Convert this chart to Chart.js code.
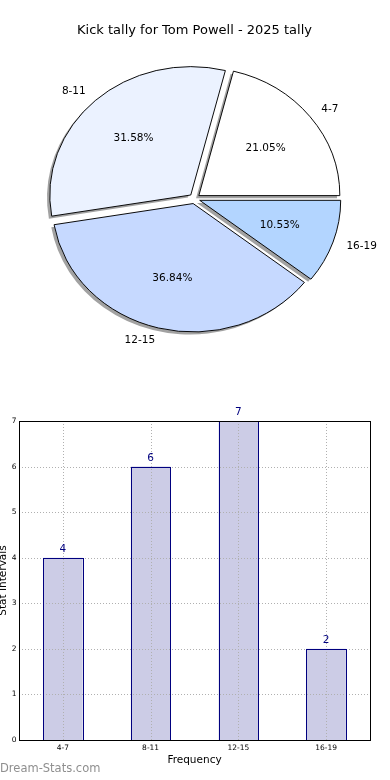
<!DOCTYPE html>
<html><head><meta charset="utf-8">
<script src="https://cdn.jsdelivr.net/npm/chart.js@4.4.0/dist/chart.umd.min.js"></script>
<style>
html,body{margin:0;padding:0;background:#fff;width:390px;height:780px;overflow:hidden;}
#pieWrap{position:absolute;left:0;top:0;width:390px;height:380px;}
#barWrap{position:absolute;left:0;top:400px;width:390px;height:380px;}
canvas{display:block;}
</style></head><body>
<div id="pieWrap"><canvas id="pie" width="390" height="380"></canvas></div>
<div id="barWrap"><canvas id="bar" width="390" height="380"></canvas></div>
<script>
const chartTitle = 'Kick tally for Tom Powell - 2025 tally';
const categories = ['4-7', '8-11', '12-15', '16-19'];
const counts = [4, 6, 7, 2];
const pieColors = ['#ffffff', '#ebf2ff', '#c6d9ff', '#b3d5ff'];
const yTicks = [0, 1, 2, 3, 4, 5, 6, 7];
const xAxisTitle = 'Frequency';
const yAxisTitle = 'Stat Intervals';
const watermark = 'Dream-Stats.com';

Chart.defaults.font.family = 'DejaVu Sans';

const PIE_R = 141;            // horizontal radius
const SY = 128.4 / 141;       // vertical squash of pie
const EXPLODE = 5.5;          // px translation of each wedge
const SHADOW_DX = -2.8, SHADOW_DY = 2.6;
const SHADOW = 'rgba(70,70,70,0.5)';

// Chart.js draws clockwise; matplotlib draws counter-clockwise -> reverse
const pieLabels = categories.slice().reverse();
const pieData = counts.slice().reverse();
const pieBg = pieColors.slice().reverse();
const total = counts.reduce((a, b) => a + b, 0);

function squash(ctx, cx, cy) {
  ctx.translate(cx, cy); ctx.scale(1, SY); ctx.translate(-cx, -cy);
}

const pieDeco = {
  id: 'pieDeco',
  beforeDatasetsDraw(chart) {
    const ctx = chart.ctx;
    const meta = chart.getDatasetMeta(0);
    const cx = meta.data[0].x, cy = meta.data[0].y;
    // shadows
    meta.data.forEach(el => {
      const h = (el.startAngle + el.endAngle) / 2;
      ctx.save();
      ctx.translate(SHADOW_DX, SHADOW_DY);
      squash(ctx, cx, cy);
      const ox = cx + Math.cos(h) * EXPLODE, oy = cy + Math.sin(h) * EXPLODE;
      ctx.beginPath();
      ctx.moveTo(ox, oy);
      ctx.arc(ox, oy, el.outerRadius, el.startAngle, el.endAngle);
      ctx.closePath();
      ctx.fillStyle = SHADOW;
      ctx.fill();
      ctx.restore();
    });
    // wedges (exploded, squashed)
    meta.data.forEach(el => {
      const h = (el.startAngle + el.endAngle) / 2;
      ctx.save();
      squash(ctx, cx, cy);
      ctx.translate(Math.cos(h) * EXPLODE, Math.sin(h) * EXPLODE);
      el.draw(ctx);
      ctx.restore();
    });
    // labels
    ctx.save();
    ctx.fillStyle = '#000';
    ctx.font = '10.5px "DejaVu Sans"';
    ctx.textBaseline = 'middle';
    meta.data.forEach((el, i) => {
      const h = (el.startAngle + el.endAngle) / 2;
      const R = el.outerRadius;
      const c = Math.cos(h), s = Math.sin(h);
      const lx = cx + (1.1 * R + EXPLODE) * c;
      const ly = cy + (1.1 * R + EXPLODE) * s * SY;
      ctx.textAlign = c > 0 ? 'left' : 'right';
      ctx.fillText(pieLabels[i], lx, ly);
      const px = cx + (0.6 * R + EXPLODE) * c;
      const py = cy + (0.6 * R + EXPLODE) * s * SY;
      ctx.textAlign = 'center';
      ctx.fillText((pieData[i] / total * 100).toFixed(2) + '%', px, py);
    });
    ctx.restore();
    return false;
  }
};

new Chart(document.getElementById('pie').getContext('2d'), {
  type: 'pie',
  data: {
    labels: pieLabels,
    datasets: [{
      data: pieData,
      backgroundColor: pieBg,
      borderColor: '#000',
      borderWidth: 1,
      offset: 0,
      hoverOffset: 0
    }]
  },
  options: {
    responsive: false,
    animation: false,
    events: [],
    rotation: 90,
    radius: PIE_R,
    layout: { padding: { top: 0, bottom: 21.2, left: 0, right: 1 } },
    plugins: {
      legend: { display: false },
      tooltip: { enabled: false },
      title: {
        display: true, text: chartTitle, color: '#000',
        font: { size: 13, weight: 'normal', family: 'DejaVu Sans' },
        padding: { top: 23, bottom: 0 }
      }
    }
  },
  plugins: [pieDeco]
});

const barDeco = {
  id: 'barDeco',
  afterDatasetsDraw(chart) {
    const ctx = chart.ctx;
    const a = chart.chartArea;
    const xs = chart.scales.x, ys = chart.scales.y;
    const meta = chart.getDatasetMeta(0);
    ctx.save();
    // dotted grid
    ctx.strokeStyle = '#b0b0b0';
    ctx.lineWidth = 1;
    ctx.setLineDash([1, 2]);
    yTicks.forEach(v => {
      const y = Math.round(ys.getPixelForValue(v)) + 0.5;
      ctx.beginPath(); ctx.moveTo(a.left, y); ctx.lineTo(a.right, y); ctx.stroke();
    });
    categories.forEach((c, i) => {
      const x = Math.round(xs.getPixelForValue(i)) + 0.5;
      ctx.beginPath(); ctx.moveTo(x, a.top); ctx.lineTo(x, a.bottom); ctx.stroke();
    });
    ctx.setLineDash([]);
    // crisp bar outlines from the bar elements' geometry
    ctx.strokeStyle = '#00007f';
    meta.data.forEach(el => {
      const x0 = Math.round(el.x - el.width / 2), x1 = Math.round(el.x + el.width / 2);
      const y0 = Math.round(el.y), y1 = Math.round(el.base);
      ctx.strokeRect(x0 + 0.5, y0 + 0.5, x1 - x0, y1 - y0);
    });
    // frame
    ctx.strokeStyle = '#000';
    ctx.strokeRect(Math.round(a.left) + 0.5, Math.round(a.top) + 0.5,
      Math.round(a.right - a.left), Math.round(a.bottom - a.top));
    // value labels
    ctx.fillStyle = '#00007f';
    ctx.font = '10.5px "DejaVu Sans"';
    ctx.textAlign = 'center';
    ctx.textBaseline = 'alphabetic';
    meta.data.forEach((el, i) => {
      ctx.fillText(String(counts[i]), el.x, el.y - 6);
    });
    // watermark
    ctx.fillStyle = '#8f8f8f';
    ctx.font = '11.5px "DejaVu Sans"';
    ctx.textAlign = 'left';
    ctx.fillText(watermark, 0, 372);
    ctx.restore();
  }
};

new Chart(document.getElementById('bar').getContext('2d'), {
  type: 'bar',
  data: {
    labels: categories,
    datasets: [{
      data: counts,
      backgroundColor: '#ccccE6',
      borderWidth: 0,
      barPercentage: 0.45,
      categoryPercentage: 1
    }]
  },
  options: {
    responsive: false,
    animation: false,
    events: [],
    layout: { padding: { top: 21, right: 20, left: 0, bottom: 0 } },
    plugins: { legend: { display: false }, tooltip: { enabled: false } },
    scales: {
      x: {
        grid: { display: false, drawTicks: false },
        border: { display: false },
        ticks: { font: { size: 7.5 }, color: '#000', padding: 3.5, maxRotation: 0 },
        title: { display: true, text: xAxisTitle, color: '#000', font: { size: 10.5 }, padding: { top: 0, bottom: 13.7 } },
        afterFit(s) { s.height = 40; }
      },
      y: {
        min: yTicks[0], max: yTicks[yTicks.length - 1],
        grid: { display: false, drawTicks: false },
        border: { display: false },
        ticks: { stepSize: 1, font: { size: 7.5 }, color: '#000', padding: 2.5 },
        title: { display: true, text: yAxisTitle, color: '#000', font: { size: 10.5 }, padding: { top: -2.6, bottom: 0 } },
        afterFit(s) { s.width = 19; }
      }
    }
  },
  plugins: [barDeco]
});
</script>
</body></html>
